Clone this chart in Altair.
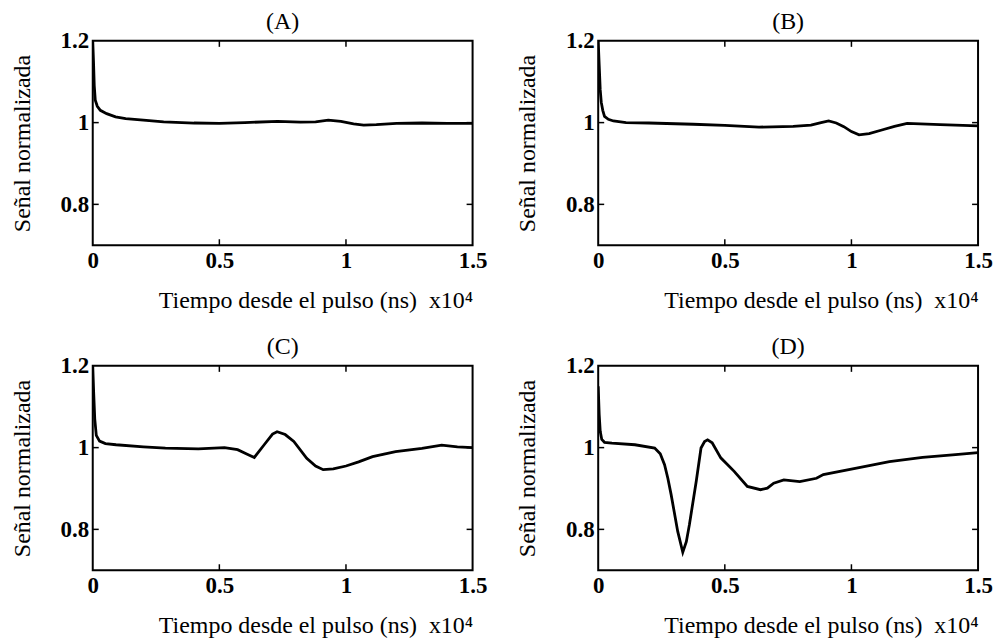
import altair as alt
import pandas as pd

# ---- data (x in units of 10^4 ns, y = normalised signal) ----
XA = [0.0, 0.003, 0.006, 0.010, 0.018, 0.03, 0.055, 0.09, 0.13, 0.2, 0.28, 0.4, 0.5, 0.6,
      0.73, 0.82, 0.88, 0.93, 0.98, 1.03, 1.07, 1.12, 1.2, 1.3, 1.4, 1.5]
YA = [1.2, 1.15, 1.09, 1.055, 1.04, 1.03, 1.022, 1.014, 1.010, 1.006, 1.002, 0.999, 0.998, 1.0,
      1.003, 1.001, 1.002, 1.006, 1.003, 0.997, 0.994, 0.995, 0.998, 0.999, 0.998, 0.998]

XB = [0.0, 0.004, 0.008, 0.012, 0.018, 0.025, 0.04, 0.06, 0.11, 0.2, 0.375, 0.5, 0.635, 0.77,
      0.84, 0.88, 0.91, 0.94, 0.97, 1.0, 1.03, 1.07, 1.12, 1.17, 1.22, 1.35, 1.5]
YB = [1.2, 1.14, 1.08, 1.05, 1.03, 1.015, 1.008, 1.004, 1.0, 0.999, 0.996, 0.993, 0.989, 0.991,
      0.994, 1.0, 1.004, 0.999, 0.99, 0.978, 0.970, 0.973, 0.982, 0.991, 0.998, 0.995, 0.992]

XC = [0.0, 0.004, 0.008, 0.014, 0.027, 0.05, 0.092, 0.2, 0.287, 0.417, 0.52, 0.572, 0.61, 0.638,
      0.677, 0.71, 0.728, 0.76, 0.794, 0.845, 0.88, 0.91, 0.95, 1.0, 1.05, 1.105, 1.196, 1.30,
      1.378, 1.44, 1.5]
YC = [1.2, 1.13, 1.07, 1.03, 1.016, 1.01, 1.007, 1.002, 0.999, 0.997, 1.0, 0.995, 0.984, 0.976,
      1.007, 1.033, 1.039, 1.032, 1.015, 0.974, 0.955, 0.946, 0.948, 0.955, 0.965, 0.978, 0.990,
      0.998, 1.006, 1.002, 1.0]

XD = [0.0, 0.004, 0.008, 0.014, 0.025, 0.054, 0.145, 0.223, 0.245, 0.262, 0.275, 0.288, 0.314,
      0.334, 0.348, 0.36, 0.387, 0.406, 0.42, 0.432, 0.45, 0.484, 0.537, 0.589, 0.641, 0.668,
      0.693, 0.733, 0.796, 0.862, 0.889, 1.02, 1.15, 1.281, 1.411, 1.5]
YD = [1.15, 1.08, 1.04, 1.02, 1.013, 1.011, 1.007, 0.999, 0.985, 0.958, 0.925, 0.885, 0.795,
      0.744, 0.77, 0.811, 0.917, 0.999, 1.015, 1.019, 1.012, 0.975, 0.942, 0.905, 0.897, 0.901,
      0.913, 0.921, 0.917, 0.925, 0.934, 0.95, 0.966, 0.976, 0.983, 0.988]

PANEL_LABELS = ["(A)", "(B)", "(C)", "(D)"]
X_TICKS = [0, 0.5, 1, 1.5]
Y_TICKS = [0.8, 1.0, 1.2]
X_INNER_TICKS = [0.5, 1.0]
Y_INNER_TICKS = [0.8, 1.0]
X_DOMAIN = [0, 1.5]
Y_DOMAIN = [0.7, 1.2]

X_TITLE = "Tiempo desde el pulso (ns)\u00a0\u00a0x10\u2074"
Y_TITLE = "Señal normalizada"

FONT = "Liberation Serif"
W, H = 381, 205

def make_panel(xs, ys, label):
    df = pd.DataFrame({"t": xs, "s": ys})
    xscale = alt.Scale(domain=X_DOMAIN, nice=False, zero=False)
    yscale = alt.Scale(domain=Y_DOMAIN, nice=False, zero=False)
    xaxis = alt.Axis(values=X_TICKS, format="~g", title=X_TITLE, titleAnchor="end",
                     labelFlush=False, labelOverlap=False, labelPadding=4, titlePadding=16,
                     ticks=False, domain=False, grid=False)
    yaxis = alt.Axis(values=Y_TICKS, format="~g", title=Y_TITLE,
                     labelFlush=False, labelOverlap=False, labelPadding=4, titlePadding=26,
                     ticks=False, domain=False, grid=False)
    line = alt.Chart(df).mark_line(color="black", strokeWidth=2.8, clip=True).encode(
        x=alt.X("t:Q", scale=xscale, axis=xaxis),
        y=alt.Y("s:Q", scale=yscale, axis=yaxis),
    )
    # inward tick marks on all four sides
    xlen = (Y_DOMAIN[1] - Y_DOMAIN[0]) * 6 / H
    ylen = (X_DOMAIN[1] - X_DOMAIN[0]) * 6 / W
    rows = []
    for v in X_INNER_TICKS:
        rows.append({"x": v, "x2": v, "y": Y_DOMAIN[0], "y2": Y_DOMAIN[0] + xlen})
        rows.append({"x": v, "x2": v, "y": Y_DOMAIN[1], "y2": Y_DOMAIN[1] - xlen})
    for v in Y_INNER_TICKS:
        rows.append({"x": X_DOMAIN[0], "x2": X_DOMAIN[0] + ylen, "y": v, "y2": v})
        rows.append({"x": X_DOMAIN[1], "x2": X_DOMAIN[1] - ylen, "y": v, "y2": v})
    ticks = alt.Chart(pd.DataFrame(rows)).mark_rule(color="black", strokeWidth=1.5).encode(
        x=alt.X("x:Q", scale=xscale, axis=xaxis),
        x2="x2:Q",
        y=alt.Y("y:Q", scale=yscale, axis=yaxis),
        y2="y2:Q",
    )
    return alt.layer(line, ticks).properties(
        width=W, height=H,
        view=alt.ViewBackground(stroke="black", strokeWidth=2, fill="white"),
        title=alt.TitleParams(label, font=FONT, fontSize=24, fontWeight="normal",
                              color="black", offset=-4),
    )

panels = [make_panel(x, y, lab) for x, y, lab in
          zip([XA, XB, XC, XD], [YA, YB, YC, YD], PANEL_LABELS)]

chart = alt.concat(*panels, columns=2,
                   spacing=alt.RowColnumber(row=21, column=26)).properties(
    background="white",
    padding={"left": 1, "right": 0, "top": 0, "bottom": 0},
).configure_view(
    stroke="black", strokeWidth=2
).configure_axis(
    labelFont=FONT, labelFontSize=23, labelFontWeight="bold", labelColor="black",
    titleFont=FONT, titleFontSize=24, titleFontWeight="normal", titleColor="black",
)

chart.save("out.html", embed_options={"renderer": "svg", "actions": False})
